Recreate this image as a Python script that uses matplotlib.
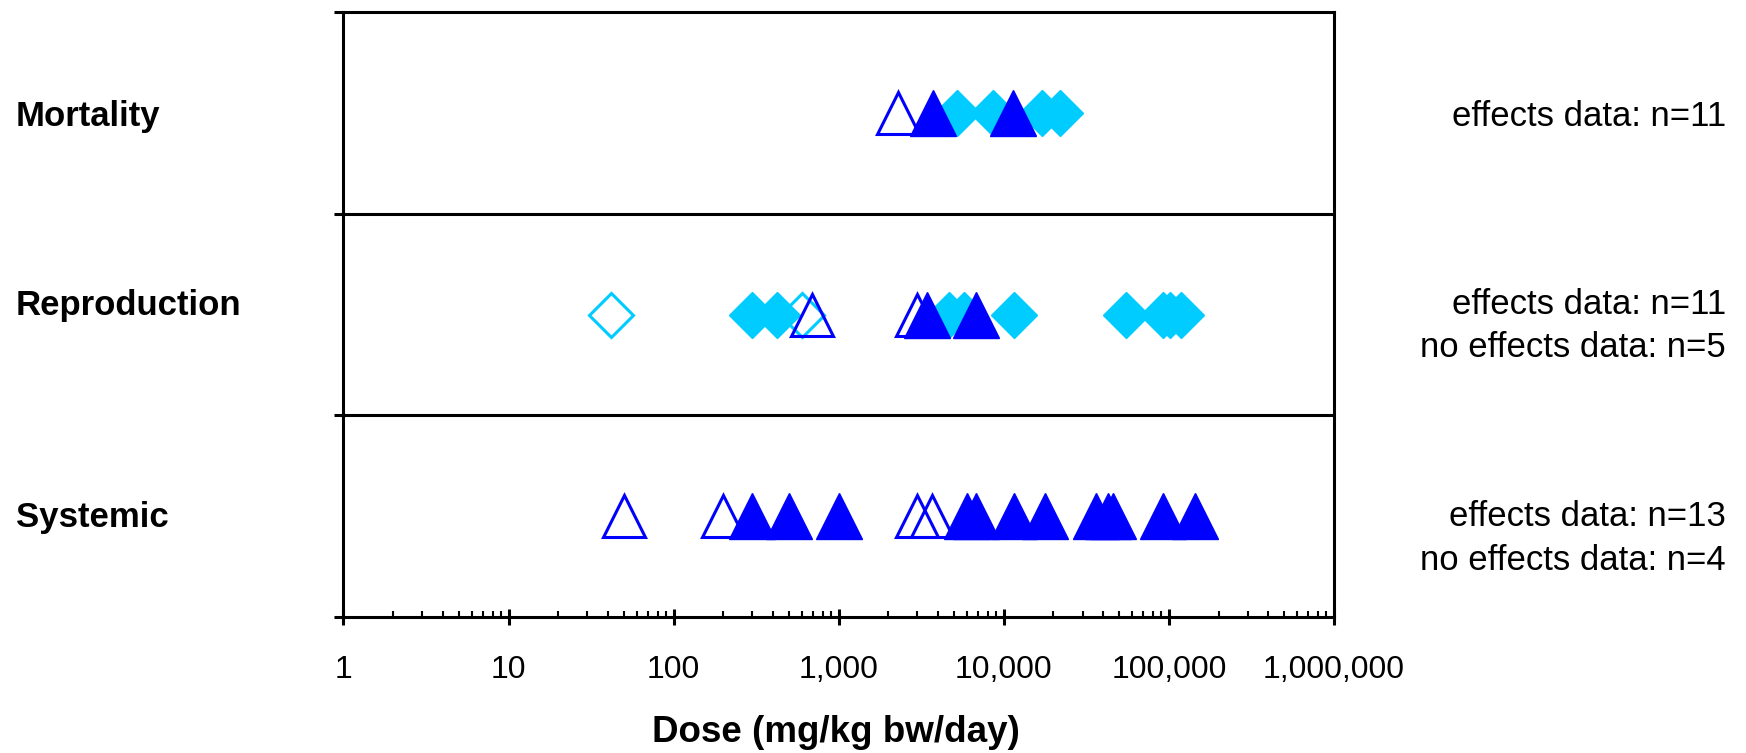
import matplotlib
matplotlib.use("Agg")
import matplotlib.pyplot as plt
import numpy as np
from matplotlib import font_manager
from matplotlib.ticker import FixedLocator, LogLocator, NullFormatter

plt.rcParams['font.family'] = ['Liberation Sans', 'DejaVu Sans']

# rows (y position in data coords: 2.5 top ... 0.5 bottom)
rows = ["Mortality", "Reproduction", "Systemic"]
row_y = [2.5, 1.5, 0.5]

# doses (mg/kg bw/day)
mort_open_tri = [2300]
mort_fill_dia = [5200, 8600, 17000, 22000]
mort_fill_tri = [3750, 11400]

repro_open_dia = [42, 600]
repro_fill_dia = [300, 424, 4630, 5710, 11600, 55000, 92000, 101000, 118000]
repro_open_tri = [690, 3000]
repro_fill_tri = [3430, 6810]

sys_open_tri = [50, 200, 3000, 3700]
sys_fill_tri = [300, 500, 1000, 6000, 6800, 11600, 17800, 36000, 42500, 46000, 92000, 143000]

tick_vals = [1, 10, 100, 1000, 10000, 100000, 1000000]
tick_labels = ["1", "10", "100", "1,000", "10,000", "100,000", "1,000,000"]

right_notes = [["effects data: n=11"],
               ["effects data: n=11", "no effects data: n=5"],
               ["effects data: n=13", "no effects data: n=4"]]

cyan = "#00CCFF"
blue = "#0000FF"

# narrow face for the tick labels if it is there
installed = {f.name for f in font_manager.fontManager.ttflist}
if "Liberation Sans Narrow" in installed:
    tick_font, tick_size = "Liberation Sans Narrow", 26
else:
    tick_font, tick_size = "Liberation Sans", 23

fig = plt.figure(figsize=(17.46, 7.53), dpi=100)
ax = fig.add_axes([0.1967, 0.1806, 0.764 - 0.1967, 0.984 - 0.1806])

def put(vals, y, marker, color, filled, ms, z):
    yy = np.full(len(vals), y)
    if filled:
        ax.plot(vals, yy, ls="none", marker=marker, ms=ms, mfc=color, mec=color,
                mew=1, zorder=z, clip_on=False)
    else:
        ax.plot(vals, yy, ls="none", marker=marker, ms=ms, mfc="none", mec=color,
                mew=2.2, zorder=z, clip_on=False)

# draw order: filled diamonds, open diamonds, open triangles, filled triangles
put(mort_fill_dia, row_y[0], "D", cyan, True, 23.5, 3)
put(repro_fill_dia, row_y[1], "D", cyan, True, 23.5, 3)
put(repro_open_dia, row_y[1], "D", cyan, False, 22, 4)
put(mort_open_tri, row_y[0], "^", blue, False, 30, 5)
put(repro_open_tri, row_y[1], "^", blue, False, 30, 5)
put(sys_open_tri, row_y[2], "^", blue, False, 30, 5)
put(mort_fill_tri, row_y[0], "^", blue, True, 33, 6)
put(repro_fill_tri, row_y[1], "^", blue, True, 33, 6)
put(sys_fill_tri, row_y[2], "^", blue, True, 33, 6)

ax.set_xscale("log")
ax.set_xlim(1, 1000000)
ax.set_ylim(0, 3)
ax.axhline(1, color="black", lw=2.2, zorder=2)
ax.axhline(2, color="black", lw=2.2, zorder=2)

ax.xaxis.set_major_locator(FixedLocator(tick_vals))
ax.set_xticklabels(tick_labels, fontfamily=tick_font, fontsize=tick_size)
ax.xaxis.set_minor_locator(LogLocator(base=10, subs=np.arange(2, 10)))
ax.xaxis.set_minor_formatter(NullFormatter())
ax.tick_params(axis="x", which="major", direction="inout", length=12, width=2.2, pad=21)
ax.tick_params(axis="x", which="minor", direction="in", length=4.5, width=1.5)
ax.set_yticks([0, 1, 2, 3])
ax.set_yticklabels([])
ax.tick_params(axis="y", which="major", direction="out", length=6.5, width=2.2)
for s in ax.spines.values():
    s.set_linewidth(2.2)

fig.text(0.479, 0.0266, "Dose (mg/kg bw/day)", ha="center", va="center",
         fontsize=26.5, fontweight="bold")

label_y = [0.845, 0.594, 0.313]
for name, y in zip(rows, label_y):
    fig.text(0.0089, y, name, ha="left", va="center", fontsize=25, fontweight="bold")

note_y = [[0.845], [0.596, 0.538], [0.3147, 0.2563]]
for notes, ys in zip(right_notes, note_y):
    for t, y in zip(notes, ys):
        fig.text(0.9885, y, t, ha="right", va="center", fontsize=25)

fig.savefig("out.png", dpi=100)
